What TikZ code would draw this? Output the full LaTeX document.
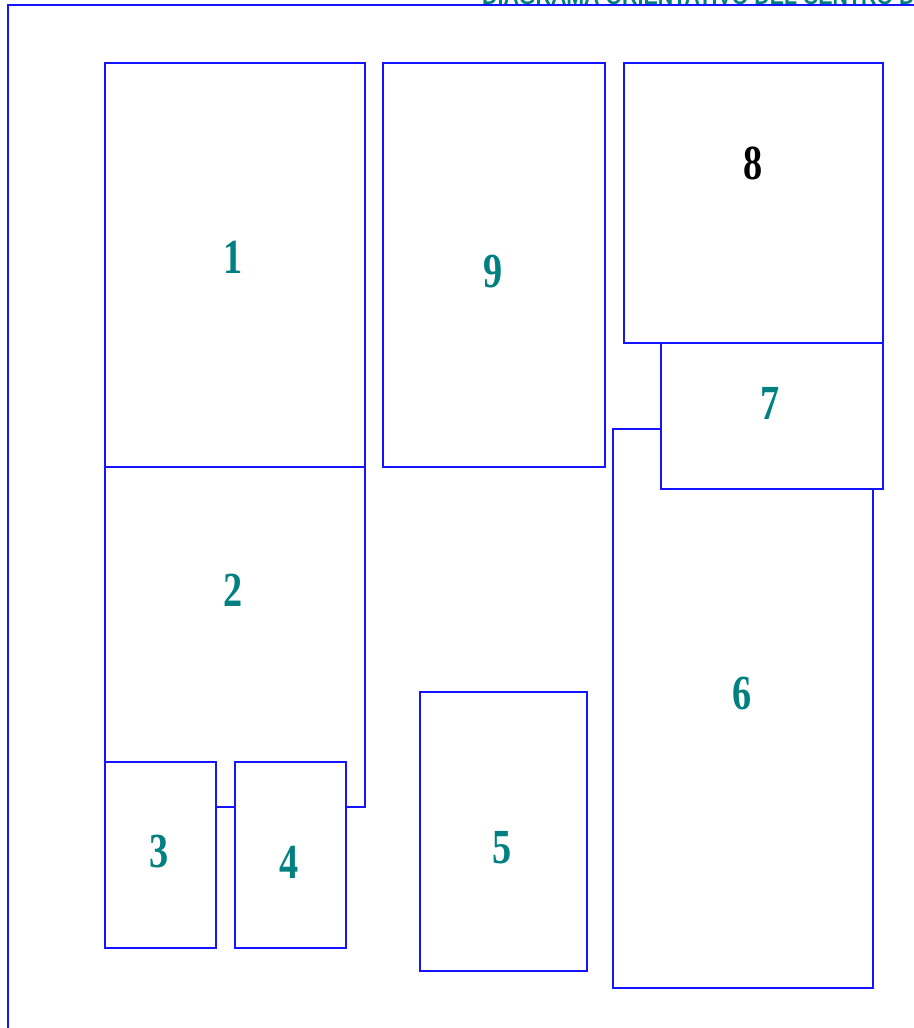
\documentclass[tikz,border=0pt]{standalone}
\usepackage{fontspec}
\setmainfont{Liberation Serif}
\setsansfont{Liberation Sans}
\definecolor{teal1}{RGB}{0,128,128}
\definecolor{wall}{RGB}{20,20,255}
\newcommand{\narrowtxt}[2]{\scalebox{#1}[1]{#2}}
\tikzset{
  room/.style={draw=wall, fill=white, line width=2pt, inner sep=0pt, anchor=north west},
  roomlbl/.style={text=teal1, inner sep=0pt, font=\fontsize{49}{49}\selectfont\bfseries},
  frameline/.style={draw=wall, line width=2pt},
}
\begin{document}
\begin{tikzpicture}[x=1pt,y=-1pt]
\useasboundingbox (0,0) rectangle (913,1028);
\fill[white] (0,0) rectangle (913,1028);
% title (clipped by page top)
\node[anchor=base west, inner sep=0pt, text=teal1, font=\sffamily\bfseries\fontsize{24}{24}\selectfont] (title) at (482,4) {\narrowtxt{0.89}{DIAGRAMA ORIENTATIVO DEL CENTRO DE}};
% outer frame
\coordinate (fTL) at (8,5);
\coordinate (fTR) at (930,5);
\coordinate (fBL) at (8,1040);
\draw[frameline] (fTR) -- (fTL) -- (fBL);
% rooms
\node[room, minimum width=260, minimum height=406] (r2) at (104,400) {};
\node[room, minimum width=260, minimum height=404] (r1) at (104,62) {};
\node[room, minimum width=111, minimum height=186] (r3) at (104,761) {};
\node[room, minimum width=111, minimum height=186] (r4) at (234,761) {};
\node[room, minimum width=222, minimum height=404] (r9) at (382,62) {};
\node[room, minimum width=167, minimum height=279] (r5) at (419,691) {};
\node[room, minimum width=260, minimum height=559] (r6) at (612,428) {};
\node[room, minimum width=222, minimum height=146] (r7) at (660,342) {};
\node[room, minimum width=259, minimum height=280] (r8) at (623,62) {};
% labels
\node[roomlbl] (l1) at (233,257) {\narrowtxt{0.78}{1}};
\node[roomlbl] (l2) at (233,590) {\narrowtxt{0.78}{2}};
\node[roomlbl] (l3) at (159,852) {\narrowtxt{0.78}{3}};
\node[roomlbl] (l4) at (289,862) {\narrowtxt{0.78}{4}};
\node[roomlbl] (l5) at (502,848) {\narrowtxt{0.78}{5}};
\node[roomlbl] (l6) at (742,694) {\narrowtxt{0.78}{6}};
\node[roomlbl] (l7) at (770,403) {\narrowtxt{0.78}{7}};
\node[roomlbl, text=black] (l8) at (753,163) {\narrowtxt{0.78}{8}};
\node[roomlbl] (l9) at (493,272) {\narrowtxt{0.78}{9}};
\end{tikzpicture}
\end{document}
